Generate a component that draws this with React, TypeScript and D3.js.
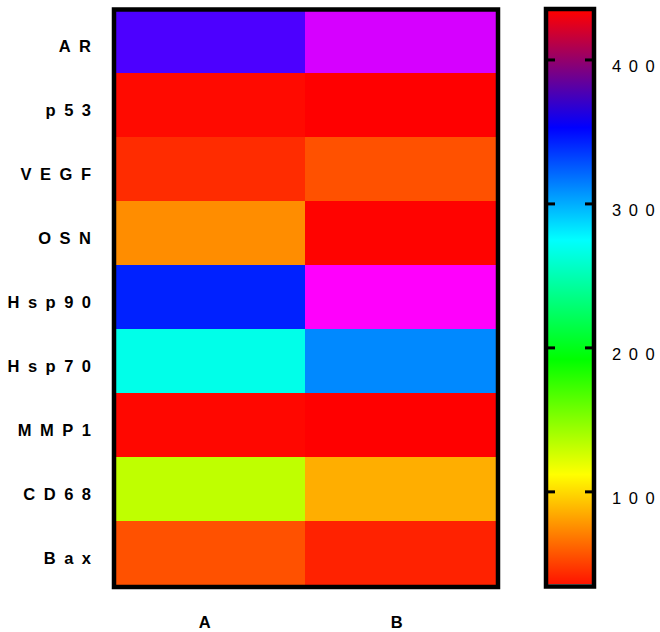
import React from "react";
import * as d3 from "d3";

const genes = ["AR", "p53", "VEGF", "OSN", "Hsp90", "Hsp70", "MMP1", "CD68", "Bax"];
const groups = ["A", "B"];
const valuesA = [365, 39, 49, 78, 343, 268, 38, 132, 60];
const valuesB = [387, 36, 60, 37, 394, 311, 36, 88, 46];
const colorStops = [36, 112, 192, 275, 353, 434];
const stopHues = [0, 60, 120, 180, 240, 360];
const barColors = ["#ff1400", "#ffff00", "#00ff00", "#00ffff", "#0000ff", "#ff0000"];
const barTicks = [100, 200, 300, 400];

const W = 660;
const H = 632;
const FONT = "'Liberation Sans', Arial, Helvetica, sans-serif";

export default function App() {
  const x = d3.scaleBand<string>().domain(groups).range([113, 497]);
  const y = d3.scaleBand<string>().domain(genes).range([9, 585]);
  const hue = d3.scaleLinear<number>().domain(colorStops).range(stopHues).clamp(true);
  const color = (v: number) => d3.hsl(hue(v) % 360, 1, 0.5).formatHex();
  const cb = d3.scaleLinear().domain([colorStops[0], colorStops[colorStops.length - 1]]).range([584, 11]);
  const cbX0 = 548;
  const cbX1 = 592;
  const series = [valuesA, valuesB];
  const ls = 8.5;
  const tickDx = (s: string) => s.split("").map((_, i) => (i === 0 ? 0 : 7.5)).join(" ");

  return (
    <svg width={W} height={H} style={{ position: "absolute", left: 0, top: 0, background: "#fff" }}>
      <defs>
        <linearGradient id="cbgrad" x1="0" y1="1" x2="0" y2="0">
          {colorStops.map((s, i) => (
            <stop
              key={i}
              offset={(s - colorStops[0]) / (colorStops[colorStops.length - 1] - colorStops[0])}
              stopColor={barColors[i]}
            />
          ))}
        </linearGradient>
      </defs>
      {groups.map((g, gi) =>
        genes.map((gene, ri) => (
          <rect
            key={g + gene}
            x={x(g)!}
            y={y(gene)!}
            width={x.bandwidth()}
            height={y.bandwidth()}
            fill={color(series[gi][ri])}
            shapeRendering="crispEdges"
          />
        ))
      )}
      <rect x={114} y={9.5} width={384} height={577.5} fill="none" stroke="#000" strokeWidth={4.5} />
      {genes.map((gene) => (
        <text
          key={gene}
          x={99.5}
          y={y(gene)! + y.bandwidth() / 2 + 10.5}
          textAnchor="end"
          fontFamily={FONT}
          fontWeight="bold"
          fontSize={16.5}
          letterSpacing={ls}
          fill="#000"
        >
          {gene}
        </text>
      ))}
      {groups.map((g) => (
        <text
          key={g}
          x={x(g)! + x.bandwidth() / 2}
          y={628}
          textAnchor="middle"
          fontFamily={FONT}
          fontWeight="bold"
          fontSize={16.5}
          letterSpacing={ls}
          fill="#000"
        >
          {g}
        </text>
      ))}
      <rect x={cbX0} y={cb(colorStops[colorStops.length - 1])} width={cbX1 - cbX0} height={cb(colorStops[0]) - cb(colorStops[colorStops.length - 1])} fill="url(#cbgrad)" />
      <rect x={546} y={9} width={48} height={577.5} fill="none" stroke="#000" strokeWidth={4.5} />
      {barTicks.map((t) => (
        <g key={t}>
          <line x1={cbX0} x2={cbX0 + 7} y1={cb(t)} y2={cb(t)} stroke="#000" strokeWidth={3} />
          <line x1={cbX1 - 7} x2={cbX1} y1={cb(t)} y2={cb(t)} stroke="#000" strokeWidth={3} />
          <text
            x={612}
            y={cb(t) + 12}
            dx={tickDx(String(t))}
            fontFamily={FONT}
            fontSize={16.5}
            fill="#000"
          >
            {t}
          </text>
        </g>
      ))}
    </svg>
  );
}
